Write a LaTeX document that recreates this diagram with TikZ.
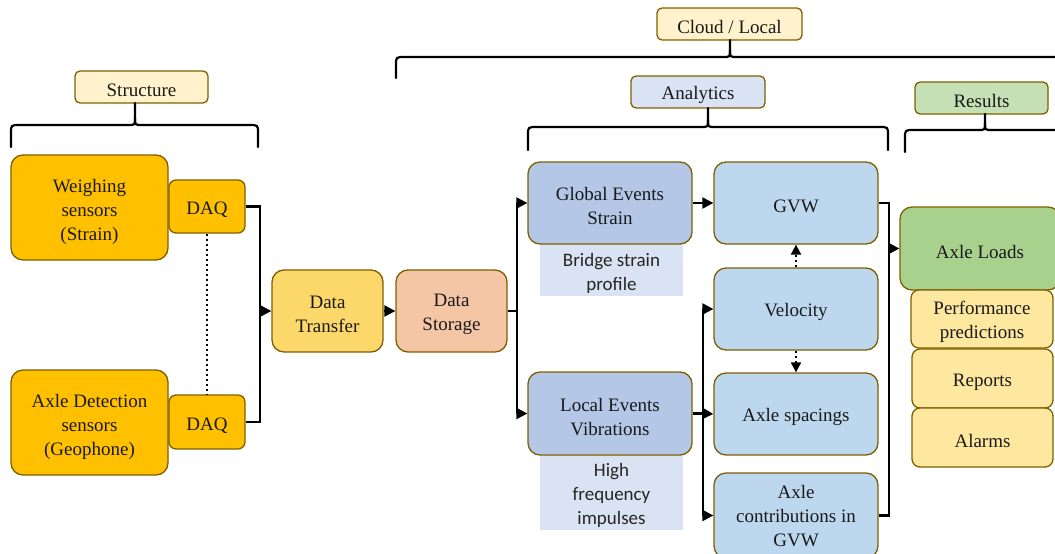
\documentclass[tikz,border=0pt]{standalone}
\usepackage{fontspec}
\setmainfont{Liberation Serif}
\newfontfamily\serfont{Liberation Serif}
\newfontfamily\notefont{Carlito}
\usetikzlibrary{arrows.meta}
\definecolor{brd}{HTML}{7F6000}
\definecolor{cOrange}{HTML}{FFC000}
\definecolor{cTransfer}{HTML}{FCD76A}
\definecolor{cStorage}{HTML}{F5C6A5}
\definecolor{cEvents}{HTML}{B4C7E7}
\definecolor{cNote}{HTML}{DAE3F3}
\definecolor{cCalc}{HTML}{BDD7EE}
\definecolor{cLoads}{HTML}{A9D18E}
\definecolor{cRes}{HTML}{FEE8A0}
\definecolor{cLabY}{HTML}{FFF2CC}
\definecolor{cLabG}{HTML}{C5E0B4}
\definecolor{txt}{HTML}{1A1A1A}
\newcommand\fs{\rule{0pt}{20pt}}
\newcommand\fsb{\rule{0pt}{22pt}}
\newcommand\fsc{\rule{0pt}{14pt}}
\tikzset{
  box/.style={draw=brd, line width=1.3pt, rounded corners=12pt, align=center,
    inner sep=0pt, text=txt, font=\serfont\fontsize{19}{24}\selectfont,
    execute at begin node={\rule{0pt}{20pt}}},
  lab/.style={box, rounded corners=5pt, minimum height=32pt},
  note/.style={fill=cNote, draw=none, align=center, inner sep=0pt,
    text=black!85, font=\notefont\fontsize{19}{24}\selectfont},
  conn/.style={line width=2.2pt, draw=black},
  arr/.style={conn, -{Triangle[length=11pt,width=11pt]}},
  darr/.style={line width=2pt, dash pattern=on 2.5pt off 2.5pt, -{Triangle[length=10pt,width=10pt]}},
  bracestyle/.style={line width=2.2pt, draw=black, line cap=round},
}
\newcommand\mybrace[6]{% x1, x2, yline, ybottom, xmid, ytop
  \draw[bracestyle] (#1,#4) -- (#1,#3-8) .. controls (#1,#3) .. (#1+9,#3)
    -- (#5-7,#3) .. controls (#5,#3) .. (#5,#3+7) -- (#5,#6);
  \draw[bracestyle] (#5,#3+7) .. controls (#5,#3) .. (#5+7,#3)
    -- (#2-9,#3) .. controls (#2,#3) .. (#2,#3-8) -- (#2,#4);
}
\begin{document}
\begin{tikzpicture}[x=1pt,y=1pt]
\useasboundingbox (0,0) rectangle (1055,-554);
\clip (0,0) rectangle (1055,-554);

% labels
\node[lab, fill=cLabY, minimum width=133pt] (struct) at (141.5,-87) {Structure};
\node[lab, fill=cLabY, minimum width=145pt] (cloud) at (729.5,-24) {Cloud / Local};
\node[lab, fill=cNote, minimum width=134pt] (analytics) at (698,-92) {Analytics};
\node[lab, fill=cLabG, minimum width=133pt] (results) at (981.5,-98) {Results};

% braces
\mybrace{11}{258}{-125}{-147}{135}{-103}
\mybrace{396}{1100}{-57}{-78}{730}{-40}
\mybrace{528}{888}{-127}{-150}{708}{-108}
\mybrace{905}{1120}{-130}{-152}{985}{-114}

% structure
\node[box, fill=cOrange, minimum width=157pt, minimum height=105pt] (weigh) at (89.5,-207.5) {\fsb Weighing\\sensors\\(Strain)};
\node[box, fill=cOrange, rounded corners=7pt, minimum width=76pt, minimum height=53pt] (daq1) at (207,-206.5) {DAQ};
\node[box, fill=cOrange, minimum width=157pt, minimum height=105pt] (axled) at (89.5,-422.5) {\fsb Axle Detection\\sensors\\(Geophone)};
\node[box, fill=cOrange, rounded corners=7pt, minimum width=76pt, minimum height=54pt] (daq2) at (207,-422) {DAQ};

\node[box, fill=cTransfer, minimum width=111pt, minimum height=82pt] (transfer) at (327.5,-311) {\fs Data\\Transfer};
\node[box, fill=cStorage, minimum width=111pt, minimum height=82pt] (storage) at (451.5,-311) {\fs Data\\Storage};

% analytics
\node[note, minimum width=143pt, minimum height=52pt] (bridge) at (611.5,-270) {\fs Bridge strain\\profile};
\node[note, minimum width=143pt, minimum height=75pt] (hf) at (611.5,-492.5) {\fs High\\frequency\\impulses};
\node[box, fill=cEvents, minimum width=164pt, minimum height=82pt] (global) at (610,-203) {\fs Global Events\\Strain};
\node[box, fill=cEvents, minimum width=164pt, minimum height=83pt] (local) at (610,-413.5) {\fs Local Events\\Vibrations};

\node[box, fill=cCalc, minimum width=164pt, minimum height=82pt] (gvw) at (796,-203) {GVW};
\node[box, fill=cCalc, minimum width=164pt, minimum height=82pt] (vel) at (796,-309) {Velocity};
\node[box, fill=cCalc, minimum width=164pt, minimum height=82pt] (spac) at (796,-414) {Axle spacings};
\node[box, fill=cCalc, minimum width=164pt, minimum height=85pt] (contrib) at (796,-515.5) {\fsc Axle\\contributions in\\GVW};

% results
\node[box, fill=cLoads, minimum width=160pt, minimum height=83pt] (loads) at (980,-248.5) {Axle Loads};
\node[box, fill=cRes, rounded corners=8pt, minimum width=142pt, minimum height=58pt] (perf) at (982,-319) {\fs Performance\\predictions};
\node[box, fill=cRes, rounded corners=8pt, minimum width=141pt, minimum height=59pt] (reports) at (982.5,-378.5) {Reports};
\node[box, fill=cRes, rounded corners=8pt, minimum width=141pt, minimum height=59pt] (alarms) at (982.5,-437.5) {Alarms};

% connectors
\draw[line width=2pt, dash pattern=on 2.5pt off 2.5pt] (daq1.south) -- (daq2.north);
\coordinate (j1) at (260,-311);
\draw[conn] (daq1.east) -| (j1);
\draw[conn] (daq2.east) -| (j1);
\draw[arr] (j1) -- (transfer.west);
\draw[arr] (transfer.east) -- (storage.west);

\coordinate (j2) at (517,-311);
\draw[conn] (storage.east) -- (j2);
\draw[arr] (j2) |- (global.west);
\draw[arr] (j2) |- (local.west);

\draw[arr] (global.east) -- (gvw.west);

\coordinate (j3) at (703,-413.5);
\draw[conn] (local.east) -- (j3);
\draw[arr] (j3) |- (vel.west);
\draw[arr] (j3) -- (spac.west);
\draw[arr] (j3) |- (contrib.west);

\draw[darr] (vel.north) -- (gvw.south);
\draw[darr] (vel.south) -- (spac.north);

\coordinate (j4) at (889,-248.5);
\draw[conn] (gvw.east) -| (j4);
\draw[conn] (contrib.east) -| (j4);
\draw[arr] (j4) -- (loads.west);
\end{tikzpicture}
\end{document}
